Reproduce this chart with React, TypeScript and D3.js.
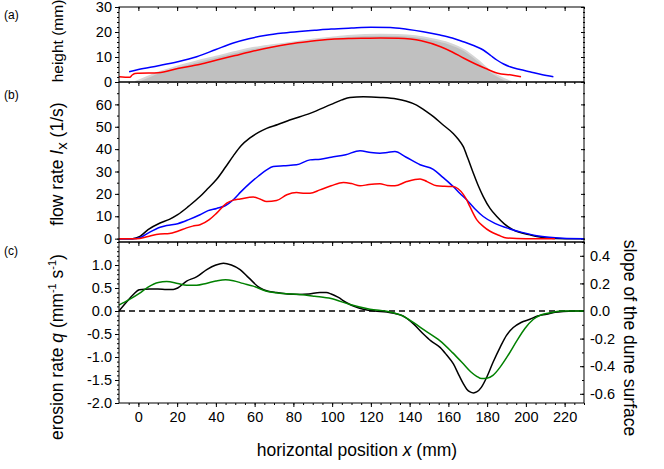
import React, { useEffect, useRef } from 'react';
import * as d3 from 'd3';

// (a) dune height profile, mm
const sandX = [-1.5, 5, 10, 20, 30, 40, 50, 60, 70, 79, 89, 99.5, 108, 117, 125, 134, 143, 151, 160, 168, 175, 182, 187, 192.5];
const sandH = [0, 2.1, 3.7, 6.1, 8.2, 10.1, 12, 13.7, 14.8, 15.7, 16.8, 17.7, 18.4, 18.8, 18.9, 18.8, 18.3, 17.2, 15.5, 12.8, 8.8, 4.1, 1.8, 0];

const redAX = [-10, -4.4, -3.2, -1.8, 0, 10.3, 20.3, 32, 40.5, 50, 58, 68, 78, 88, 99.5, 110, 117, 125, 134, 146, 156, 162, 168, 174, 179, 185.5, 192.5, 197.5];
const redAH = [2.1, 1.9, 2.8, 3.4, 3.5, 3.7, 5.4, 7.1, 8.8, 10.6, 12.1, 13.8, 15.2, 16.2, 17.1, 17.4, 17.5, 17.6, 17.5, 16.5, 14.1, 12, 9.5, 7.2, 5.5, 3.5, 2.8, 2.1];

const blueAX = [-4.8, 0, 10.3, 20.3, 30.1, 40, 49, 57, 66, 75, 83, 91, 99.5, 110, 120, 130, 138.5, 147, 155.7, 162, 167.7, 173, 178, 182, 185, 188.5, 191.8, 197, 202, 208, 214.2];
const blueAH = [4.1, 5, 6.5, 8.1, 10.1, 13, 15.6, 17.3, 18.7, 19.6, 20.2, 20.7, 21.2, 21.6, 21.9, 21.8, 21.1, 20.1, 18.8, 17.6, 16.1, 14.6, 12.8, 10.5, 8.8, 7.2, 6.1, 5, 4.1, 3, 2.1];

// (b) flow rate I_x, 1/s
const blackBX = [-10, -3, 0.8, 5, 11.2, 16, 20.3, 26, 31.8, 36, 40.4, 45, 49, 53, 57.6, 62, 66.2, 72, 78.1, 88.6, 99.5, 105, 109.2, 116.1, 125, 133.3, 138, 143.6, 148, 152.3, 157, 162.5, 165, 167.7, 170, 172.9, 175.5, 178, 181.5, 185, 189, 193.5, 202.1, 210.7, 220, 230];
const blackBV = [0, 0, 1, 4, 7, 8.6, 10.7, 14.5, 18.8, 22.5, 26.5, 32, 37, 41.5, 45, 47.5, 49.3, 51, 53, 56, 60, 62, 63.1, 63.4, 63.1, 62.4, 61.5, 59.7, 57.2, 54.5, 51, 47, 44.5, 41.1, 36, 29.2, 23.5, 18.8, 13.5, 9.9, 6.5, 3.9, 1.7, 0.3, 0, 0];

const blueBX = [-10, -3, 0.8, 5, 11.2, 14.6, 20.3, 26, 31.8, 36, 40.4, 45, 49, 53, 57.6, 62, 66.2, 69.6, 75, 81.6, 88.6, 94, 99.5, 107, 114.4, 120, 124.7, 128.5, 132.4, 138, 145.4, 152.2, 157, 162.5, 166, 169.4, 173.5, 178, 184, 190.1, 198, 205.6, 212, 219, 230];
const blueBV = [0, 0, 0.4, 2.5, 5.1, 5.9, 6.7, 8.5, 10.7, 12.5, 13.5, 14.8, 17.4, 21, 24.8, 28, 30.7, 32.2, 32.6, 33, 35.2, 35.5, 36.4, 37.5, 39.3, 38.5, 38.2, 38.5, 38.9, 36.5, 33, 31, 27.5, 23.3, 20.2, 17.4, 13.5, 9.9, 6.8, 4.8, 2.8, 1.3, 0.6, 0.2, 0];

const redBX = [-10, -3, 0.8, 5, 11.2, 16, 20.3, 24.9, 28, 31.8, 36.6, 40.4, 45.6, 49, 52.5, 59.3, 63, 66.2, 71.3, 76.6, 81.6, 86, 88.6, 93.7, 99.5, 105.8, 110, 114.4, 119, 124.7, 128.5, 132.4, 138.5, 145.4, 149, 154, 158, 162.5, 165, 167.7, 169.4, 171, 174.6, 178, 181.5, 186, 190.1, 200, 215];
const redBV = [0, 0, 0.1, 1, 2.1, 2.3, 3.3, 4.8, 5.6, 6.2, 8.5, 11.4, 15.9, 17.2, 17.7, 18.6, 17.6, 16.6, 17, 19.6, 20.6, 20.3, 20.3, 21.8, 23.6, 25.1, 24.6, 23.6, 24.2, 24.5, 23.8, 23.6, 25.5, 26.7, 25.5, 23.6, 23.4, 23.3, 22.3, 19.8, 17.4, 14.5, 8.5, 5.5, 3.3, 1.5, 0.3, 0, 0];

// (c) erosion rate q (left axis) and slope of the dune surface (right axis)
const erosionX = [-10, -6, -2.6, 0.5, 6, 10, 14.6, 18, 20.3, 24.9, 30, 35.3, 40, 43.9, 48, 52.5, 57, 62.8, 67, 71.4, 77, 83.4, 88, 93.7, 97, 99.5, 103, 107.5, 112, 116.1, 122, 128.2, 132, 136.8, 142, 147.1, 151, 155.7, 159, 162.6, 165.5, 167.7, 169.5, 171.2, 173, 174.6, 177, 179.8, 183, 186.7, 190, 193.5, 197.5, 202.1, 206, 210.7, 215, 219.3, 225, 230];
const erosionQ = [0, 0.2, 0.36, 0.46, 0.48, 0.48, 0.47, 0.47, 0.5, 0.65, 0.74, 0.9, 1.0, 1.04, 1.0, 0.9, 0.72, 0.5, 0.43, 0.4, 0.37, 0.36, 0.37, 0.4, 0.4, 0.37, 0.3, 0.18, 0.09, 0.04, 0.0, -0.02, -0.05, -0.11, -0.28, -0.5, -0.65, -0.79, -0.95, -1.15, -1.4, -1.58, -1.7, -1.76, -1.78, -1.76, -1.66, -1.44, -1.12, -0.79, -0.53, -0.36, -0.25, -0.18, -0.11, -0.07, -0.03, -0.01, 0, 0];

const slopeX = [-10, -5, 0.5, 5, 10.3, 14.6, 20.3, 25, 30.1, 35, 40, 45, 49, 54, 59.3, 66.2, 74.8, 83.4, 91, 99.5, 109.2, 119.5, 129.9, 136, 141.9, 148, 155.7, 162, 167.7, 171.5, 174.6, 177.2, 179.8, 183, 186.7, 191, 195.3, 199.5, 203.9, 208, 212.5, 219.3, 230];
const slopeS = [0.043, 0.08, 0.127, 0.173, 0.207, 0.213, 0.2, 0.187, 0.187, 0.2, 0.217, 0.227, 0.22, 0.2, 0.18, 0.143, 0.127, 0.12, 0.107, 0.09, 0.047, 0.013, -0.007, -0.033, -0.083, -0.143, -0.217, -0.3, -0.383, -0.44, -0.473, -0.49, -0.487, -0.467, -0.407, -0.317, -0.217, -0.127, -0.06, -0.027, -0.013, 0, 0];

const xMajor = d3.range(0, 221, 20);
const xMinor = d3.range(-5, 231, 5);

const W = 664;
const H = 469;
const L = 119;
const R = 584;
const FONT = '"Liberation Sans", Arial, sans-serif';
const TICK_FS = 14.5;
const TITLE_FS = 17.5;

const zip = (xs: number[], ys: number[]) => xs.map((v, i) => [v, ys[i]] as [number, number]);

export default function App() {
  const ref = useRef<SVGSVGElement>(null);

  useEffect(() => {
    if (!ref.current) return;
    const svg = d3.select(ref.current);
    svg.selectAll('*').remove();

    const x = d3.scaleLinear().domain([-10, 230]).range([L, R]);
    const yA = d3.scaleLinear().domain([0, 30]).range([82, 7]);
    const yB = d3.scaleLinear().domain([-1.5, 70]).range([242, 82]);
    const yC = d3.scaleLinear().domain([-2, 1.5]).range([403, 242]);
    const yS = d3.scaleLinear().domain([-2 / 3, 0.5]).range([403, 242]);

    const style = (g: any) => {
      g.select('.domain').remove();
      g.selectAll('line').attr('stroke', '#000');
      g.selectAll('text').attr('font-family', FONT).attr('font-size', TICK_FS).attr('fill', '#000');
      g.attr('font-family', FONT);
    };
    const axis = (ax: any, tx: number, ty: number) => {
      svg.append('g').attr('transform', `translate(${tx},${ty})`).call(ax).call(style);
    };

    // x ticks: all pointing down
    const xTicks = (y0: number, minor: number[], labels: boolean) => {
      axis(d3.axisBottom(x).tickValues(minor).tickSize(2).tickFormat(() => ''), 0, y0);
      axis(d3.axisBottom(x).tickValues(xMajor).tickSize(4).tickPadding(5)
        .tickFormat((d: any) => (labels ? String(d) : '')), 0, y0);
    };
    xTicks(7, d3.range(-10, 231, 10), false);
    xTicks(82, xMinor, false);
    xTicks(242, xMinor, false);
    xTicks(403, xMinor, true);

    // y ticks
    const yTicks = (y: any, major: number[], minor: number[], fmt: (d: number) => string) => {
      axis(d3.axisLeft(y).tickValues(minor).tickSize(2).tickFormat(() => ''), L, 0);
      axis(d3.axisLeft(y).tickValues(major).tickSize(4).tickPadding(3).tickFormat((d: any) => fmt(d)), L, 0);
    };
    const yTicksRightIn = (y: any, major: number[], minor: number[]) => {
      axis(d3.axisLeft(y).tickValues(minor).tickSize(2).tickFormat(() => ''), R + 1, 0);
      axis(d3.axisLeft(y).tickValues(major).tickSize(4).tickFormat(() => ''), R + 1, 0);
    };
    yTicks(yA, [0, 10, 20, 30], d3.range(0, 31, 2), (d) => String(d));
    yTicksRightIn(yA, [0, 10, 20, 30], d3.range(0, 31, 2));
    yTicks(yB, d3.range(0, 61, 10), d3.range(0, 71, 5), (d) => String(d));
    yTicksRightIn(yB, d3.range(0, 71, 10), d3.range(0, 71, 5));
    const cMajor = d3.range(-4, 3).map((k) => k * 0.5);
    const cMinor = d3.range(-20, 16).map((k) => k / 10);
    yTicks(yC, cMajor, cMinor, (d) => d.toFixed(1));
    const sMajor = d3.range(-3, 3).map((k) => k * 0.2);
    const sMinor = d3.range(-6, 6).map((k) => k / 10);
    axis(d3.axisRight(yS).tickValues(sMinor).tickSizeInner(-2).tickSizeOuter(0).tickFormat(() => ''), R, 0);
    axis(d3.axisRight(yS).tickValues(sMajor).tickSizeInner(-4).tickSizeOuter(0).tickPadding(6)
      .tickFormat((d: any) => (Math.abs(d) < 1e-9 ? '0.0' : d.toFixed(1))), R, 0);

    // (a) dune
    const area = d3.area<[number, number]>().x((d) => x(d[0])).y0(yA(0)).y1((d) => yA(d[1])).curve(d3.curveMonotoneX);
    svg.append('path').datum(zip(sandX, sandH)).attr('d', area as any)
      .attr('fill', '#c0c0c0').attr('stroke', '#d6d6d6').attr('stroke-width', 2);

    const drawLine = (y: any, xs: number[], vs: number[], color: string) => {
      const line = d3.line<[number, number]>().x((d) => x(d[0])).y((d) => y(d[1])).curve(d3.curveMonotoneX);
      svg.append('path').datum(zip(xs, vs)).attr('d', line as any)
        .attr('fill', 'none').attr('stroke', color).attr('stroke-width', 1.5).attr('stroke-linejoin', 'round');
    };
    drawLine(yA, blueAX, blueAH, '#0000ff');
    drawLine(yA, redAX, redAH, '#ff0000');

    // (b) flow rates
    drawLine(yB, blackBX, blackBV, '#000');
    drawLine(yB, blueBX, blueBV, '#0000ff');
    drawLine(yB, redBX, redBV, '#ff0000');

    // (c) zero line, erosion, slope
    svg.append('line').attr('x1', L).attr('x2', R).attr('y1', yC(0)).attr('y2', yC(0))
      .attr('stroke', '#000').attr('stroke-width', 1.3).attr('stroke-dasharray', '6,4');
    drawLine(yC, erosionX, erosionQ, '#000');
    drawLine(yS, slopeX, slopeS, '#008000');

    // frames
    [[7, 82], [82, 242], [242, 403]].forEach(([t, b]) => {
      svg.append('rect').attr('x', L).attr('y', t).attr('width', R - L).attr('height', b - t)
        .attr('fill', 'none').attr('stroke', '#000').attr('stroke-width', 1);
    });

    // panel letters
    const txt = (s: string, tx: number, ty: number, size: number) =>
      svg.append('text').attr('x', tx).attr('y', ty).attr('font-family', FONT).attr('font-size', size).attr('fill', '#000').text(s);
    txt('(a)', 4, 19, 12);
    txt('(b)', 4, 99, 12);
    txt('(c)', 4, 255, 12);

    // axis titles
    const vtitle = (tx: number, ty: number, rot: number, fs = TITLE_FS) =>
      svg.append('text').attr('transform', `translate(${tx},${ty}) rotate(${rot})`)
        .attr('text-anchor', 'middle').attr('font-family', FONT).attr('font-size', fs).attr('fill', '#000');

    vtitle(63, 41, -90, 15.5).text('height (mm)');

    const tb = vtitle(63, 164, -90);
    tb.append('tspan').text('flow rate ');
    tb.append('tspan').attr('font-style', 'italic').text('I');
    tb.append('tspan').attr('dy', 4).attr('font-size', 15).text('x');
    tb.append('tspan').attr('dy', -4).text(' (1/s)');

    const tc = vtitle(63, 347, -90);
    tc.append('tspan').text('erosion rate ');
    tc.append('tspan').attr('font-style', 'italic').text('q');
    tc.append('tspan').text(' (mm');
    tc.append('tspan').attr('dy', -7).attr('font-size', 11).text('-1');
    tc.append('tspan').attr('dy', 7).text(' s');
    tc.append('tspan').attr('dy', -7).attr('font-size', 11).text('-1');
    tc.append('tspan').attr('dy', 7).text(')');

    vtitle(624, 338, 90).text('slope of the dune surface');

    const tx = svg.append('text').attr('x', 357).attr('y', 456).attr('text-anchor', 'middle')
      .attr('font-family', FONT).attr('font-size', TITLE_FS).attr('fill', '#000');
    tx.append('tspan').text('horizontal position ');
    tx.append('tspan').attr('font-style', 'italic').text('x');
    tx.append('tspan').text(' (mm)');
  }, []);

  return (
    <svg ref={ref} width={W} height={H} style={{ position: 'absolute', left: 0, top: 0, background: '#fff' }} />
  );
}
